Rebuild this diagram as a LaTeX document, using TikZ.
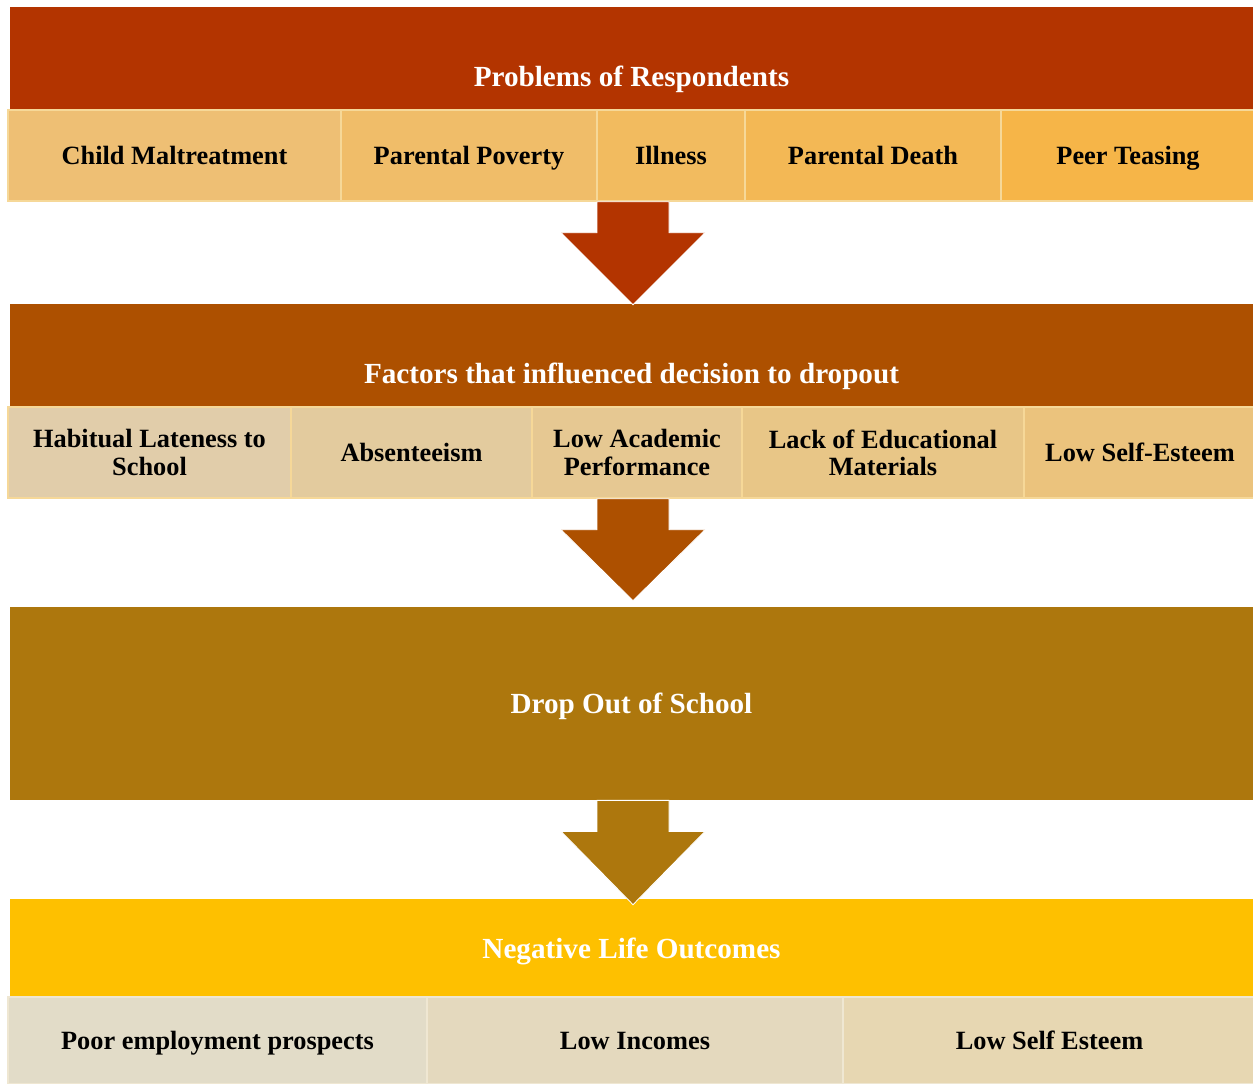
\documentclass[tikz,border=0pt]{standalone}
\usepackage{fontspec}
\setmainfont{Liberation Serif}
\usetikzlibrary{calc}
\definecolor{bandA}{HTML}{B33400}
\definecolor{bandB}{HTML}{AD5000}
\definecolor{bandC}{HTML}{AD770D}
\definecolor{bandD}{HTML}{FEC000}
\definecolor{cellA1}{HTML}{EEBF74}
\definecolor{cellA2}{HTML}{F0BD69}
\definecolor{cellA3}{HTML}{F2BB5F}
\definecolor{cellA4}{HTML}{F3B855}
\definecolor{cellA5}{HTML}{F6B548}
\definecolor{cellB1}{HTML}{E1CDAA}
\definecolor{cellB2}{HTML}{E3CB9E}
\definecolor{cellB3}{HTML}{E6C892}
\definecolor{cellB4}{HTML}{E8C687}
\definecolor{cellB5}{HTML}{EBC37D}
\definecolor{cellD1}{HTML}{E2DCC8}
\definecolor{cellD2}{HTML}{E4D9BE}
\definecolor{cellD3}{HTML}{E7D7B2}
\definecolor{cellline}{HTML}{F6D898}
\definecolor{cellpale}{HTML}{EFE7D2}
\def\blockarrow[#1](#2)(#3){\filldraw[#1, draw=white, line width=0.5pt] ($(#2)+(-36,0)$) -- ($(#2)+(36,0)$) -- ($(#2)+(36,31)$) -- ($(#2)+(72,31)$) -- (#3) -- ($(#2)+(-72,31)$) -- ($(#2)+(-36,31)$) -- cycle;}
\tikzset{
  band/.style={fill=#1, minimum width=24.86cm, inner sep=0pt, text=white, text depth=0pt,
    font=\bfseries\fontsize{16.6}{18}\selectfont},
  cell/.style={fill=#1, draw=cellline, line width=0.8pt, minimum height=1.82cm,
    inner sep=0pt, align=center, font=\bfseries\fontsize{15}{15.5}\selectfont},
  oneline/.style={text depth=0pt}
}
\begin{document}
\begin{tikzpicture}[x=0.02cm, y=-0.02cm]
		%%%%% START %%%%%
		\useasboundingbox (0, 0) rectangle (1253, 1084);
		
		\node[band=bandA, minimum height=2.76cm] (b1) at (631.5, 76) {Problems of Respondents};
		\node[cell=cellA1, oneline, minimum width=6.66cm] (c11) at (174.5, 155.5) {Child Maltreatment};
		\node[cell=cellA2, oneline, minimum width=5.12cm] (c12) at (469, 155.5) {Parental Poverty};
		\node[cell=cellA3, oneline, minimum width=2.96cm] (c13) at (671, 155.5) {Illness};
		\node[cell=cellA4, oneline, minimum width=5.12cm] (c14) at (873, 155.5) {Parental Death};
		\node[cell=cellA5, oneline, minimum width=5.08cm] (c15) at (1128, 155.5) {Peer Teasing};
		
		\node[band=bandB, minimum height=2.76cm] (b2) at (631.5, 373) {Factors that influenced decision to dropout};
		\node[cell=cellB1, minimum width=5.66cm] (c21) at (149.5, 452.5) {Habitual Lateness to\\School};
		\node[cell=cellB2, oneline, minimum width=4.82cm] (c22) at (411.5, 452.5) {Absenteeism};
		\node[cell=cellB3, minimum width=4.2cm] (c23) at (637, 452.5) {Low Academic\\Performance};
		\node[cell=cellB4, minimum width=5.64cm] (c24) at (883, 452.5) {Lack of Educational\\Materials};
		\node[cell=cellB5, oneline, minimum width=4.64cm] (c25) at (1140, 452.5) {Low Self-Esteem};
		
		\node[band=bandC, minimum height=3.86cm] (b3) at (631.5, 703.5) {Drop Out of School};
		
		\node[band=bandD, minimum height=1.96cm] (b4) at (631.5, 948) {Negative Life Outcomes};
		\node[cell=cellD1, oneline, draw=cellpale, minimum width=8.38cm, minimum height=1.74cm] (c41) at (217.5, 1040.5) {Poor employment prospects};
		\node[cell=cellD2, oneline, draw=cellpale, minimum width=8.32cm, minimum height=1.74cm] (c42) at (635, 1040.5) {Low Incomes};
		\node[cell=cellD3, oneline, draw=cellpale, minimum width=8.26cm, minimum height=1.74cm] (c43) at (1049.5, 1040.5) {Low Self Esteem};
		
		% arrow tops and tips
		\coordinate (a1) at ($(c13.south -| b2.north)+(1.5,0)$);
		\coordinate (t1) at ($(b2.north)+(1.5,1)$);
		\coordinate (a2) at ($(c23.south -| b3.north)+(1.5,0)$);
		\coordinate (t2) at ($(b3.north)+(1.5,-6)$);
		\coordinate (a3) at ($(b3.south)+(1.5,0)$);
		\coordinate (t3) at ($(b4.north)+(1.5,6)$);
		\blockarrow[fill=bandA](a1)(t1);
		\blockarrow[fill=bandB](a2)(t2);
		\blockarrow[fill=bandC](a3)(t3);
		%%%%% END %%%%%
	\end{tikzpicture}
\end{document}
